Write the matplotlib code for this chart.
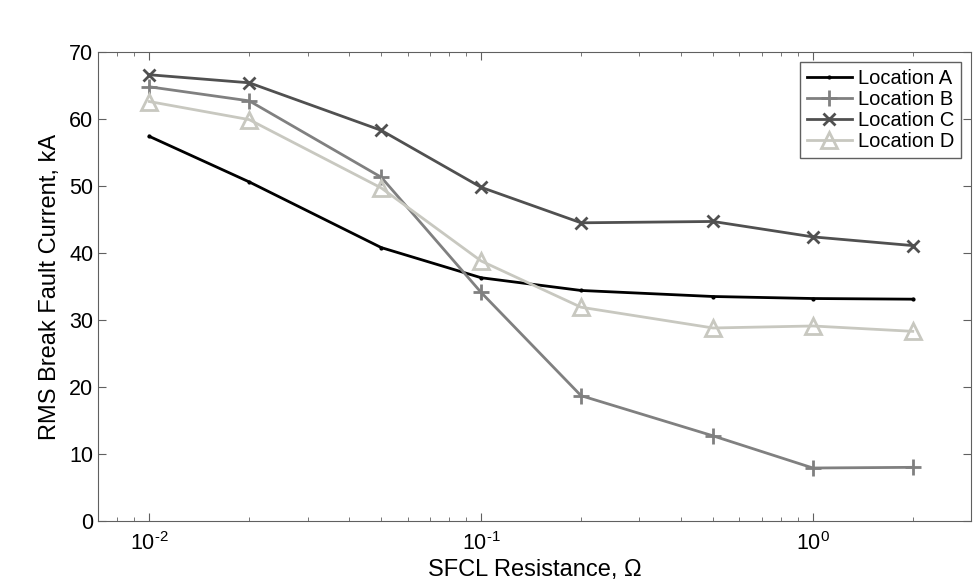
import matplotlib
matplotlib.use('Agg')
import numpy as np
import matplotlib.pyplot as plt
from matplotlib.ticker import LogLocator, FuncFormatter

plt.rcParams['font.family'] = ['Liberation Sans', 'DejaVu Sans']
plt.rcParams['axes.unicode_minus'] = False
plt.rcParams['mathtext.fontset'] = 'custom'
plt.rcParams['mathtext.rm'] = 'Liberation Sans'

# SFCL resistance values (ohm)
resistance = [0.01, 0.02, 0.05, 0.1, 0.2, 0.5, 1, 2]

# RMS break fault current (kA) at each location
loc_a = [57.4, 50.6, 40.8, 36.3, 34.4, 33.5, 33.2, 33.1]
loc_b = [64.8, 62.7, 51.3, 34.1, 18.7, 12.7, 7.9, 8.0]
loc_c = [66.6, 65.4, 58.3, 49.8, 44.5, 44.7, 42.4, 41.1]
loc_d = [62.6, 59.9, 49.7, 38.8, 31.9, 28.8, 29.1, 28.3]


def decade_label(x, pos):
    e = int(round(np.log10(x)))
    s = str(e).replace('-', '\u2010')  # hyphen, like the original
    return r'$\mathregular{10^{%s}}$' % s


fig = plt.figure(figsize=(9.8, 5.84), dpi=100)
ax = fig.add_axes([0.1, 0.108, 0.891, 0.803])

ax.plot(resistance, loc_a, color='black', lw=2, marker='.', ms=4, label='Location A')
ax.plot(resistance, loc_b, color='#808080', lw=2, marker='+', ms=12, mew=2, label='Location B')
ax.plot(resistance, loc_c, color='#505050', lw=2, marker='x', ms=9, mew=2, label='Location C')
ax.plot(resistance, loc_d, color='#c8c8c0', lw=2, marker='^', ms=11, mew=2,
        markerfacecolor='none', label='Location D')

ax.set_xscale('log')
ax.set_xlim(0.007, 3)
ax.set_ylim(0, 70)
ax.set_yticks(range(0, 71, 10))
ax.xaxis.set_minor_locator(LogLocator(base=10, subs=range(2, 10)))
ax.xaxis.set_major_formatter(FuncFormatter(decade_label))

for s in ax.spines.values():
    s.set_color('#606060')
ax.tick_params(which='both', direction='in', top=True, right=True, colors='#606060',
               labelcolor='black', labelsize=15.5)
ax.tick_params(which='major', length=6)
ax.tick_params(which='minor', length=3)
ax.tick_params(axis='x', pad=8)

ax.set_xlabel('SFCL Resistance, Ω', fontsize=17, labelpad=3)
ax.set_ylabel('RMS Break Fault Current, kA', fontsize=17, labelpad=6)

leg = ax.legend(loc='upper right', fontsize=14.5, fancybox=False, framealpha=1,
                edgecolor='#606060', handlelength=2.2, borderaxespad=0.5,
                labelspacing=0.1, handletextpad=0.3, borderpad=0.35)
leg.get_frame().set_linewidth(1)

fig.savefig('out.png', dpi=100)
